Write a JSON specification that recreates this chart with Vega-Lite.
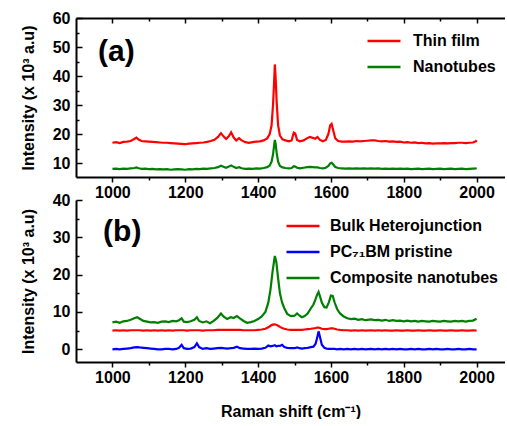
{
  "$schema": "https://vega.github.io/schema/vega-lite/v6.json",
  "padding": {"left": 20, "top": 10, "right": 0, "bottom": 0},
  "bounds": "flush",
  "spacing": 23,
  "datasets": {
    "a": [
      {"x":1000,"Thin film":17.0,"Nanotubes":8.0},{"x":1010,"Thin film":17.2,"Nanotubes":8.1},{"x":1020,"Thin film":16.9,"Nanotubes":7.9},{"x":1030,"Thin film":17.3,"Nanotubes":8.1},{"x":1040,"Thin film":17.4,"Nanotubes":8.0},{"x":1050,"Thin film":17.6,"Nanotubes":8.2},{"x":1060,"Thin film":18.3,"Nanotubes":8.3},{"x":1066,"Thin film":18.8,"Nanotubes":8.5},{"x":1072,"Thin film":18.1,"Nanotubes":8.2},{"x":1080,"Thin film":17.6,"Nanotubes":8.0},{"x":1090,"Thin film":17.5,"Nanotubes":8.1},{"x":1100,"Thin film":17.4,"Nanotubes":7.9},{"x":1110,"Thin film":17.3,"Nanotubes":8.0},{"x":1120,"Thin film":17.2,"Nanotubes":7.8},{"x":1130,"Thin film":17.1,"Nanotubes":7.9},{"x":1140,"Thin film":17.0,"Nanotubes":7.8},{"x":1150,"Thin film":17.0,"Nanotubes":7.9},{"x":1160,"Thin film":16.9,"Nanotubes":7.7},{"x":1170,"Thin film":16.8,"Nanotubes":7.8},{"x":1180,"Thin film":16.7,"Nanotubes":7.9},{"x":1190,"Thin film":16.6,"Nanotubes":7.8},{"x":1200,"Thin film":16.5,"Nanotubes":7.7},{"x":1210,"Thin film":16.7,"Nanotubes":7.9},{"x":1220,"Thin film":16.8,"Nanotubes":7.8},{"x":1230,"Thin film":16.9,"Nanotubes":8.0},{"x":1240,"Thin film":17.0,"Nanotubes":7.9},{"x":1250,"Thin film":17.1,"Nanotubes":8.1},{"x":1260,"Thin film":17.3,"Nanotubes":8.0},{"x":1270,"Thin film":17.6,"Nanotubes":8.2},{"x":1280,"Thin film":18.0,"Nanotubes":8.3},{"x":1290,"Thin film":19.0,"Nanotubes":8.6},{"x":1298,"Thin film":20.3,"Nanotubes":9.1},{"x":1305,"Thin film":19.2,"Nanotubes":8.7},{"x":1312,"Thin film":18.3,"Nanotubes":8.4},{"x":1320,"Thin film":19.3,"Nanotubes":8.8},{"x":1326,"Thin film":20.6,"Nanotubes":9.2},{"x":1333,"Thin film":18.8,"Nanotubes":8.7},{"x":1340,"Thin film":17.8,"Nanotubes":8.3},{"x":1348,"Thin film":18.6,"Nanotubes":8.6},{"x":1355,"Thin film":17.8,"Nanotubes":8.2},{"x":1365,"Thin film":17.2,"Nanotubes":8.0},{"x":1375,"Thin film":17.0,"Nanotubes":8.1},{"x":1385,"Thin film":17.2,"Nanotubes":8.0},{"x":1395,"Thin film":17.4,"Nanotubes":8.2},{"x":1405,"Thin film":17.5,"Nanotubes":8.1},{"x":1415,"Thin film":17.8,"Nanotubes":8.3},{"x":1425,"Thin film":18.5,"Nanotubes":8.6},{"x":1432,"Thin film":20.0,"Nanotubes":9.2},{"x":1437,"Thin film":23.0,"Nanotubes":10.5},{"x":1441,"Thin film":30.0,"Nanotubes":13.0},{"x":1444,"Thin film":38.0,"Nanotubes":16.0},{"x":1446,"Thin film":44.0,"Nanotubes":18.0},{"x":1448,"Thin film":40.0,"Nanotubes":16.8},{"x":1451,"Thin film":31.0,"Nanotubes":13.5},{"x":1455,"Thin film":23.0,"Nanotubes":10.5},{"x":1460,"Thin film":19.5,"Nanotubes":9.0},{"x":1467,"Thin film":18.2,"Nanotubes":8.5},{"x":1475,"Thin film":17.8,"Nanotubes":8.3},{"x":1485,"Thin film":17.5,"Nanotubes":8.2},{"x":1492,"Thin film":17.8,"Nanotubes":8.3},{"x":1498,"Thin film":20.5,"Nanotubes":8.9},{"x":1502,"Thin film":20.2,"Nanotubes":8.8},{"x":1507,"Thin film":18.0,"Nanotubes":8.4},{"x":1515,"Thin film":17.5,"Nanotubes":8.2},{"x":1525,"Thin film":17.8,"Nanotubes":8.4},{"x":1535,"Thin film":18.6,"Nanotubes":8.6},{"x":1542,"Thin film":19.0,"Nanotubes":8.7},{"x":1550,"Thin film":18.7,"Nanotubes":8.6},{"x":1557,"Thin film":18.4,"Nanotubes":8.5},{"x":1563,"Thin film":19.0,"Nanotubes":8.5},{"x":1570,"Thin film":18.0,"Nanotubes":8.3},{"x":1578,"Thin film":17.5,"Nanotubes":8.2},{"x":1586,"Thin film":18.0,"Nanotubes":8.4},{"x":1593,"Thin film":20.0,"Nanotubes":9.0},{"x":1598,"Thin film":23.0,"Nanotubes":9.9},{"x":1602,"Thin film":23.5,"Nanotubes":10.1},{"x":1607,"Thin film":21.0,"Nanotubes":9.4},{"x":1612,"Thin film":18.5,"Nanotubes":8.6},{"x":1620,"Thin film":17.6,"Nanotubes":8.3},{"x":1630,"Thin film":17.4,"Nanotubes":8.2},{"x":1640,"Thin film":17.4,"Nanotubes":8.1},{"x":1650,"Thin film":17.5,"Nanotubes":8.2},{"x":1660,"Thin film":17.4,"Nanotubes":8.1},{"x":1670,"Thin film":17.6,"Nanotubes":8.2},{"x":1680,"Thin film":17.5,"Nanotubes":8.1},{"x":1690,"Thin film":17.6,"Nanotubes":8.2},{"x":1700,"Thin film":17.7,"Nanotubes":8.1},{"x":1710,"Thin film":17.8,"Nanotubes":8.2},{"x":1720,"Thin film":17.8,"Nanotubes":8.1},{"x":1730,"Thin film":17.6,"Nanotubes":8.2},{"x":1740,"Thin film":17.5,"Nanotubes":8.0},{"x":1750,"Thin film":17.6,"Nanotubes":8.1},{"x":1760,"Thin film":17.4,"Nanotubes":8.0},{"x":1770,"Thin film":17.5,"Nanotubes":8.1},{"x":1780,"Thin film":17.3,"Nanotubes":8.0},{"x":1790,"Thin film":17.4,"Nanotubes":8.1},{"x":1800,"Thin film":17.1,"Nanotubes":8.0},{"x":1810,"Thin film":17.2,"Nanotubes":8.1},{"x":1820,"Thin film":17.0,"Nanotubes":7.9},{"x":1830,"Thin film":17.1,"Nanotubes":8.0},{"x":1840,"Thin film":16.9,"Nanotubes":8.1},{"x":1850,"Thin film":17.0,"Nanotubes":7.9},{"x":1860,"Thin film":16.8,"Nanotubes":8.0},{"x":1870,"Thin film":16.9,"Nanotubes":8.1},{"x":1880,"Thin film":16.7,"Nanotubes":7.9},{"x":1890,"Thin film":16.8,"Nanotubes":8.0},{"x":1900,"Thin film":16.8,"Nanotubes":8.1},{"x":1910,"Thin film":16.9,"Nanotubes":7.9},{"x":1920,"Thin film":16.8,"Nanotubes":8.0},{"x":1930,"Thin film":16.9,"Nanotubes":8.1},{"x":1940,"Thin film":16.9,"Nanotubes":7.9},{"x":1950,"Thin film":17.0,"Nanotubes":8.0},{"x":1960,"Thin film":17.0,"Nanotubes":8.1},{"x":1970,"Thin film":16.9,"Nanotubes":7.9},{"x":1980,"Thin film":17.0,"Nanotubes":8.0},{"x":1990,"Thin film":17.1,"Nanotubes":8.1},{"x":1998,"Thin film":17.5,"Nanotubes":8.2},{"x":2000,"Thin film":17.9,"Nanotubes":8.3}
    ],
    "b": [
      {"x":1000,"Bulk Heterojunction":5.0,"PC₇₁BM pristine":0.0,"Composite nanotubes":7.2},{"x":1010,"Bulk Heterojunction":5.1,"PC₇₁BM pristine":0.1,"Composite nanotubes":7.4},{"x":1020,"Bulk Heterojunction":5.0,"PC₇₁BM pristine":0.0,"Composite nanotubes":7.1},{"x":1030,"Bulk Heterojunction":5.1,"PC₇₁BM pristine":0.1,"Composite nanotubes":7.5},{"x":1040,"Bulk Heterojunction":5.0,"PC₇₁BM pristine":0.2,"Composite nanotubes":7.6},{"x":1050,"Bulk Heterojunction":5.1,"PC₇₁BM pristine":0.3,"Composite nanotubes":7.9},{"x":1060,"Bulk Heterojunction":5.1,"PC₇₁BM pristine":0.5,"Composite nanotubes":8.3},{"x":1068,"Bulk Heterojunction":5.1,"PC₇₁BM pristine":0.6,"Composite nanotubes":8.6},{"x":1075,"Bulk Heterojunction":5.1,"PC₇₁BM pristine":0.5,"Composite nanotubes":8.2},{"x":1085,"Bulk Heterojunction":5.0,"PC₇₁BM pristine":0.4,"Composite nanotubes":7.6},{"x":1095,"Bulk Heterojunction":5.1,"PC₇₁BM pristine":0.3,"Composite nanotubes":7.4},{"x":1105,"Bulk Heterojunction":5.0,"PC₇₁BM pristine":0.2,"Composite nanotubes":7.2},{"x":1115,"Bulk Heterojunction":5.1,"PC₇₁BM pristine":0.1,"Composite nanotubes":7.3},{"x":1125,"Bulk Heterojunction":5.0,"PC₇₁BM pristine":0.0,"Composite nanotubes":7.1},{"x":1135,"Bulk Heterojunction":5.1,"PC₇₁BM pristine":0.0,"Composite nanotubes":7.4},{"x":1145,"Bulk Heterojunction":5.0,"PC₇₁BM pristine":0.1,"Composite nanotubes":7.5},{"x":1155,"Bulk Heterojunction":5.1,"PC₇₁BM pristine":0.1,"Composite nanotubes":7.3},{"x":1165,"Bulk Heterojunction":5.0,"PC₇₁BM pristine":0.0,"Composite nanotubes":7.6},{"x":1175,"Bulk Heterojunction":5.1,"PC₇₁BM pristine":0.1,"Composite nanotubes":7.5},{"x":1183,"Bulk Heterojunction":5.1,"PC₇₁BM pristine":0.4,"Composite nanotubes":7.8},{"x":1190,"Bulk Heterojunction":5.1,"PC₇₁BM pristine":1.2,"Composite nanotubes":8.3},{"x":1196,"Bulk Heterojunction":5.1,"PC₇₁BM pristine":0.3,"Composite nanotubes":7.4},{"x":1205,"Bulk Heterojunction":5.0,"PC₇₁BM pristine":0.1,"Composite nanotubes":7.3},{"x":1215,"Bulk Heterojunction":5.1,"PC₇₁BM pristine":0.2,"Composite nanotubes":7.5},{"x":1225,"Bulk Heterojunction":5.1,"PC₇₁BM pristine":0.6,"Composite nanotubes":7.9},{"x":1232,"Bulk Heterojunction":5.1,"PC₇₁BM pristine":1.6,"Composite nanotubes":8.6},{"x":1238,"Bulk Heterojunction":5.1,"PC₇₁BM pristine":0.6,"Composite nanotubes":7.6},{"x":1248,"Bulk Heterojunction":5.0,"PC₇₁BM pristine":0.1,"Composite nanotubes":7.2},{"x":1258,"Bulk Heterojunction":5.1,"PC₇₁BM pristine":0.3,"Composite nanotubes":7.5},{"x":1268,"Bulk Heterojunction":5.1,"PC₇₁BM pristine":0.1,"Composite nanotubes":7.0},{"x":1278,"Bulk Heterojunction":5.1,"PC₇₁BM pristine":0.2,"Composite nanotubes":7.6},{"x":1288,"Bulk Heterojunction":5.2,"PC₇₁BM pristine":0.3,"Composite nanotubes":8.4},{"x":1298,"Bulk Heterojunction":5.2,"PC₇₁BM pristine":0.4,"Composite nanotubes":9.6},{"x":1305,"Bulk Heterojunction":5.2,"PC₇₁BM pristine":0.3,"Composite nanotubes":8.8},{"x":1315,"Bulk Heterojunction":5.2,"PC₇₁BM pristine":0.2,"Composite nanotubes":8.1},{"x":1325,"Bulk Heterojunction":5.2,"PC₇₁BM pristine":0.3,"Composite nanotubes":8.6},{"x":1333,"Bulk Heterojunction":5.2,"PC₇₁BM pristine":0.4,"Composite nanotubes":8.4},{"x":1342,"Bulk Heterojunction":5.2,"PC₇₁BM pristine":0.7,"Composite nanotubes":8.9},{"x":1350,"Bulk Heterojunction":5.2,"PC₇₁BM pristine":0.3,"Composite nanotubes":8.3},{"x":1360,"Bulk Heterojunction":5.1,"PC₇₁BM pristine":0.2,"Composite nanotubes":7.6},{"x":1370,"Bulk Heterojunction":5.1,"PC₇₁BM pristine":0.1,"Composite nanotubes":7.1},{"x":1380,"Bulk Heterojunction":5.1,"PC₇₁BM pristine":0.1,"Composite nanotubes":7.3},{"x":1390,"Bulk Heterojunction":5.1,"PC₇₁BM pristine":0.2,"Composite nanotubes":7.6},{"x":1400,"Bulk Heterojunction":5.2,"PC₇₁BM pristine":0.1,"Composite nanotubes":8.1},{"x":1410,"Bulk Heterojunction":5.3,"PC₇₁BM pristine":0.2,"Composite nanotubes":8.8},{"x":1420,"Bulk Heterojunction":5.5,"PC₇₁BM pristine":0.4,"Composite nanotubes":10.0},{"x":1428,"Bulk Heterojunction":5.9,"PC₇₁BM pristine":1.0,"Composite nanotubes":12.5},{"x":1434,"Bulk Heterojunction":6.3,"PC₇₁BM pristine":0.8,"Composite nanotubes":16.0},{"x":1440,"Bulk Heterojunction":6.6,"PC₇₁BM pristine":0.9,"Composite nanotubes":21.0},{"x":1446,"Bulk Heterojunction":6.7,"PC₇₁BM pristine":1.1,"Composite nanotubes":25.0},{"x":1450,"Bulk Heterojunction":6.6,"PC₇₁BM pristine":0.8,"Composite nanotubes":23.5},{"x":1455,"Bulk Heterojunction":6.3,"PC₇₁BM pristine":0.9,"Composite nanotubes":19.0},{"x":1460,"Bulk Heterojunction":6.0,"PC₇₁BM pristine":0.9,"Composite nanotubes":15.0},{"x":1466,"Bulk Heterojunction":5.7,"PC₇₁BM pristine":1.2,"Composite nanotubes":12.5},{"x":1472,"Bulk Heterojunction":5.5,"PC₇₁BM pristine":0.6,"Composite nanotubes":11.0},{"x":1480,"Bulk Heterojunction":5.3,"PC₇₁BM pristine":0.4,"Composite nanotubes":9.5},{"x":1490,"Bulk Heterojunction":5.2,"PC₇₁BM pristine":0.3,"Composite nanotubes":8.9},{"x":1500,"Bulk Heterojunction":5.2,"PC₇₁BM pristine":0.3,"Composite nanotubes":9.0},{"x":1507,"Bulk Heterojunction":5.2,"PC₇₁BM pristine":0.5,"Composite nanotubes":9.6},{"x":1514,"Bulk Heterojunction":5.2,"PC₇₁BM pristine":0.3,"Composite nanotubes":9.0},{"x":1520,"Bulk Heterojunction":5.2,"PC₇₁BM pristine":0.2,"Composite nanotubes":8.6},{"x":1528,"Bulk Heterojunction":5.3,"PC₇₁BM pristine":0.3,"Composite nanotubes":8.9},{"x":1536,"Bulk Heterojunction":5.4,"PC₇₁BM pristine":0.4,"Composite nanotubes":9.6},{"x":1545,"Bulk Heterojunction":5.5,"PC₇₁BM pristine":0.6,"Composite nanotubes":11.0},{"x":1552,"Bulk Heterojunction":5.6,"PC₇₁BM pristine":0.7,"Composite nanotubes":12.0},{"x":1558,"Bulk Heterojunction":5.7,"PC₇₁BM pristine":1.5,"Composite nanotubes":13.5},{"x":1562,"Bulk Heterojunction":5.8,"PC₇₁BM pristine":3.0,"Composite nanotubes":14.6},{"x":1566,"Bulk Heterojunction":5.8,"PC₇₁BM pristine":4.8,"Composite nanotubes":15.4},{"x":1570,"Bulk Heterojunction":5.7,"PC₇₁BM pristine":3.3,"Composite nanotubes":14.2},{"x":1575,"Bulk Heterojunction":5.5,"PC₇₁BM pristine":1.2,"Composite nanotubes":12.5},{"x":1582,"Bulk Heterojunction":5.4,"PC₇₁BM pristine":0.4,"Composite nanotubes":11.3},{"x":1588,"Bulk Heterojunction":5.4,"PC₇₁BM pristine":0.2,"Composite nanotubes":11.2},{"x":1594,"Bulk Heterojunction":5.5,"PC₇₁BM pristine":0.1,"Composite nanotubes":12.5},{"x":1600,"Bulk Heterojunction":5.6,"PC₇₁BM pristine":0.1,"Composite nanotubes":14.4},{"x":1605,"Bulk Heterojunction":5.6,"PC₇₁BM pristine":0.1,"Composite nanotubes":14.3},{"x":1610,"Bulk Heterojunction":5.5,"PC₇₁BM pristine":0.1,"Composite nanotubes":12.6},{"x":1617,"Bulk Heterojunction":5.3,"PC₇₁BM pristine":0.0,"Composite nanotubes":10.8},{"x":1625,"Bulk Heterojunction":5.2,"PC₇₁BM pristine":0.1,"Composite nanotubes":9.6},{"x":1635,"Bulk Heterojunction":5.1,"PC₇₁BM pristine":0.0,"Composite nanotubes":8.8},{"x":1645,"Bulk Heterojunction":5.1,"PC₇₁BM pristine":0.1,"Composite nanotubes":8.3},{"x":1655,"Bulk Heterojunction":5.0,"PC₇₁BM pristine":0.0,"Composite nanotubes":8.1},{"x":1665,"Bulk Heterojunction":5.1,"PC₇₁BM pristine":0.1,"Composite nanotubes":8.2},{"x":1675,"Bulk Heterojunction":5.0,"PC₇₁BM pristine":0.0,"Composite nanotubes":7.9},{"x":1685,"Bulk Heterojunction":5.1,"PC₇₁BM pristine":0.1,"Composite nanotubes":8.1},{"x":1695,"Bulk Heterojunction":5.0,"PC₇₁BM pristine":0.0,"Composite nanotubes":7.8},{"x":1710,"Bulk Heterojunction":5.1,"PC₇₁BM pristine":0.1,"Composite nanotubes":8.0},{"x":1720,"Bulk Heterojunction":5.0,"PC₇₁BM pristine":0.0,"Composite nanotubes":7.8},{"x":1730,"Bulk Heterojunction":5.1,"PC₇₁BM pristine":0.1,"Composite nanotubes":7.9},{"x":1740,"Bulk Heterojunction":5.0,"PC₇₁BM pristine":0.0,"Composite nanotubes":7.7},{"x":1750,"Bulk Heterojunction":5.1,"PC₇₁BM pristine":0.1,"Composite nanotubes":7.9},{"x":1760,"Bulk Heterojunction":5.0,"PC₇₁BM pristine":0.0,"Composite nanotubes":7.6},{"x":1770,"Bulk Heterojunction":5.0,"PC₇₁BM pristine":0.1,"Composite nanotubes":7.8},{"x":1780,"Bulk Heterojunction":5.1,"PC₇₁BM pristine":0.0,"Composite nanotubes":7.6},{"x":1790,"Bulk Heterojunction":5.0,"PC₇₁BM pristine":0.1,"Composite nanotubes":7.7},{"x":1800,"Bulk Heterojunction":5.0,"PC₇₁BM pristine":0.0,"Composite nanotubes":7.5},{"x":1810,"Bulk Heterojunction":5.1,"PC₇₁BM pristine":0.0,"Composite nanotubes":7.7},{"x":1820,"Bulk Heterojunction":5.0,"PC₇₁BM pristine":0.1,"Composite nanotubes":7.5},{"x":1830,"Bulk Heterojunction":5.0,"PC₇₁BM pristine":0.0,"Composite nanotubes":7.6},{"x":1840,"Bulk Heterojunction":5.1,"PC₇₁BM pristine":0.1,"Composite nanotubes":7.4},{"x":1850,"Bulk Heterojunction":5.0,"PC₇₁BM pristine":0.0,"Composite nanotubes":7.6},{"x":1860,"Bulk Heterojunction":5.0,"PC₇₁BM pristine":0.0,"Composite nanotubes":7.5},{"x":1870,"Bulk Heterojunction":5.1,"PC₇₁BM pristine":0.1,"Composite nanotubes":7.4},{"x":1880,"Bulk Heterojunction":5.0,"PC₇₁BM pristine":0.0,"Composite nanotubes":7.6},{"x":1890,"Bulk Heterojunction":5.0,"PC₇₁BM pristine":0.1,"Composite nanotubes":7.5},{"x":1900,"Bulk Heterojunction":5.1,"PC₇₁BM pristine":0.0,"Composite nanotubes":7.4},{"x":1910,"Bulk Heterojunction":5.0,"PC₇₁BM pristine":0.0,"Composite nanotubes":7.6},{"x":1920,"Bulk Heterojunction":5.0,"PC₇₁BM pristine":0.1,"Composite nanotubes":7.5},{"x":1930,"Bulk Heterojunction":5.1,"PC₇₁BM pristine":0.0,"Composite nanotubes":7.4},{"x":1940,"Bulk Heterojunction":5.0,"PC₇₁BM pristine":0.0,"Composite nanotubes":7.6},{"x":1950,"Bulk Heterojunction":5.0,"PC₇₁BM pristine":0.1,"Composite nanotubes":7.5},{"x":1960,"Bulk Heterojunction":5.1,"PC₇₁BM pristine":0.0,"Composite nanotubes":7.6},{"x":1970,"Bulk Heterojunction":5.0,"PC₇₁BM pristine":0.0,"Composite nanotubes":7.4},{"x":1980,"Bulk Heterojunction":5.0,"PC₇₁BM pristine":0.1,"Composite nanotubes":7.6},{"x":1990,"Bulk Heterojunction":5.1,"PC₇₁BM pristine":0.0,"Composite nanotubes":7.7},{"x":2000,"Bulk Heterojunction":5.0,"PC₇₁BM pristine":0.0,"Composite nanotubes":8.2}
    ]
  },
  "vconcat": [
    {
      "width": 429,
      "height": 159,
      "layer": [
        {
          "data": {"name": "a"},
          "transform": [{"fold": ["Thin film", "Nanotubes"], "as": ["series", "value"]}],
          "mark": {"type": "line", "strokeWidth": 2.2, "clip": true},
          "encoding": {
            "x": {"field": "x", "type": "quantitative",
                  "scale": {"domain": [900, 2078], "nice": false, "zero": false},
                  "axis": {"orient": "bottom", "title": null, "format": "d", "values": [1000,1100,1200,1300,1400,1500,1600,1700,1800,1900,2000],
                           "labelExpr": "datum.value % 200 === 0 ? datum.label : ''", "labelOverlap": false,
                           "tickSize": {"condition": {"test": "datum.value % 200 === 0", "value": 5}, "value": 3},
                           "labelPadding": 2}},
            "y": {"field": "value", "type": "quantitative",
                  "scale": {"domain": [5.2, 60], "nice": false, "zero": false},
                  "axis": {"title": "Intensity (x 10³ a.u)", "values": [10,15,20,25,30,35,40,45,50,55,60],
                           "labelExpr": "datum.value % 10 === 0 ? datum.label : ''", "labelOverlap": false,
                           "labelFontSize": {"condition": {"test": "datum.value % 10 === 0", "value": 16}, "value": 1},
                           "tickSize": {"condition": {"test": "datum.value % 10 === 0", "value": -6}, "value": -3},
                           "labelPadding": 12, "titlePadding": 16}},
            "color": {"field": "series", "type": "nominal",
                      "scale": {"domain": ["Thin film", "Nanotubes"], "range": ["#ff0000", "#008000"]},
                      "legend": {"title": null, "orient": "none", "legendX": 290, "legendY": 5, "symbolSize": 1089, "rowPadding": -14, "labelOffset": 11}}
          }
        },
        {
          "data": {"values": [{"x": 1011, "value": 48.3}]},
          "mark": {"type": "text", "text": "(a)", "fontSize": 30, "fontWeight": "bold", "color": "black"},
          "encoding": {
            "x": {"field": "x", "type": "quantitative",
                  "axis": {"orient": "top", "title": null, "labels": false, "format": "d",
                           "values": [1000,1100,1200,1300,1400,1500,1600,1700,1800,1900,2000],
                           "tickSize": {"condition": {"test": "datum.value % 200 === 0", "value": -5}, "value": -3}}},
            "y": {"field": "value", "type": "quantitative",
                  "axis": {"title": "Intensity (x 10³ a.u)", "values": [10,15,20,25,30,35,40,45,50,55,60],
                           "labelExpr": "datum.value % 10 === 0 ? datum.label : ''", "labelOverlap": false,
                           "labelFontSize": {"condition": {"test": "datum.value % 10 === 0", "value": 16}, "value": 1},
                           "tickSize": {"condition": {"test": "datum.value % 10 === 0", "value": -6}, "value": -3},
                           "labelPadding": 12, "titlePadding": 16}}
          }
        }
      ],
      "resolve": {"axis": {"x": "independent"}}
    },
    {
      "width": 429,
      "height": 162,
      "layer": [
        {
          "data": {"name": "b"},
          "transform": [{"fold": ["Bulk Heterojunction", "PC₇₁BM pristine", "Composite nanotubes"], "as": ["series", "value"]}],
          "mark": {"type": "line", "strokeWidth": 2.2, "clip": true},
          "encoding": {
            "x": {"field": "x", "type": "quantitative",
                  "scale": {"domain": [900, 2078], "nice": false, "zero": false},
                  "axis": {"title": "Raman shift (cm⁻¹)", "format": "d", "values": [1000,1100,1200,1300,1400,1500,1600,1700,1800,1900,2000],
                           "labelExpr": "datum.value % 200 === 0 ? datum.label : ''", "labelOverlap": false,
                           "tickSize": {"condition": {"test": "datum.value % 200 === 0", "value": 5}, "value": 3},
                           "labelPadding": 2, "titlePadding": 18}},
            "y": {"field": "value", "type": "quantitative",
                  "scale": {"domain": [-3.4, 40], "nice": false, "zero": false},
                  "axis": {"title": "Intensity (x 10³ a.u)", "values": [0,5,10,15,20,25,30,35,40],
                           "labelExpr": "datum.value % 10 === 0 ? datum.label : ''", "labelOverlap": false,
                           "labelFontSize": {"condition": {"test": "datum.value % 10 === 0", "value": 16}, "value": 1},
                           "tickSize": {"condition": {"test": "datum.value % 10 === 0", "value": -6}, "value": -3},
                           "labelPadding": 12, "titlePadding": 16}},
            "color": {"field": "series", "type": "nominal",
                      "scale": {"domain": ["Bulk Heterojunction", "PC₇₁BM pristine", "Composite nanotubes"], "range": ["#ff0000", "#0000ff", "#008000"]},
                      "legend": {"title": null, "orient": "none", "legendX": 209, "legendY": 8, "symbolSize": 1089, "rowPadding": -11}}
          }
        },
        {
          "data": {"values": [{"x": 1027, "value": 31.5}]},
          "mark": {"type": "text", "text": "(b)", "fontSize": 30, "fontWeight": "bold", "color": "black"},
          "encoding": {
            "x": {"field": "x", "type": "quantitative",
                  "axis": {"title": "Raman shift (cm⁻¹)", "format": "d", "values": [1000,1100,1200,1300,1400,1500,1600,1700,1800,1900,2000],
                           "labelExpr": "datum.value % 200 === 0 ? datum.label : ''", "labelOverlap": false,
                           "tickSize": {"condition": {"test": "datum.value % 200 === 0", "value": 5}, "value": 3},
                           "labelPadding": 2, "titlePadding": 18}},
            "y": {"field": "value", "type": "quantitative",
                  "axis": {"title": "Intensity (x 10³ a.u)", "values": [0,5,10,15,20,25,30,35,40],
                           "labelExpr": "datum.value % 10 === 0 ? datum.label : ''", "labelOverlap": false,
                           "labelFontSize": {"condition": {"test": "datum.value % 10 === 0", "value": 16}, "value": 1},
                           "tickSize": {"condition": {"test": "datum.value % 10 === 0", "value": -6}, "value": -3},
                           "labelPadding": 12, "titlePadding": 16}}
          }
        }
      ]
    }
  ],
  "resolve": {"scale": {"color": "independent", "x": "independent", "y": "independent"}},
  "config": {
    "view": {"stroke": null},
    "font": "Liberation Sans",
    "axis": {"grid": false, "domainColor": "black", "domainWidth": 2, "tickColor": "black", "tickWidth": 1.5,
             "labelColor": "black", "labelFontSize": 16, "labelFontWeight": "bold", "labelFont": "Liberation Sans",
             "titleColor": "black", "titleFontSize": 16, "titleFontWeight": "bold", "titleFont": "Liberation Sans",
             "labelFlush": false, "labelOverlap": false},
    "legend": {"symbolType": "stroke", "symbolStrokeWidth": 2.5, "labelFontSize": 16, "labelFontWeight": "bold",
               "labelColor": "black", "labelFont": "Liberation Sans", "labelOffset": 9, "padding": 0, "labelLimit": 400}
  }
}
